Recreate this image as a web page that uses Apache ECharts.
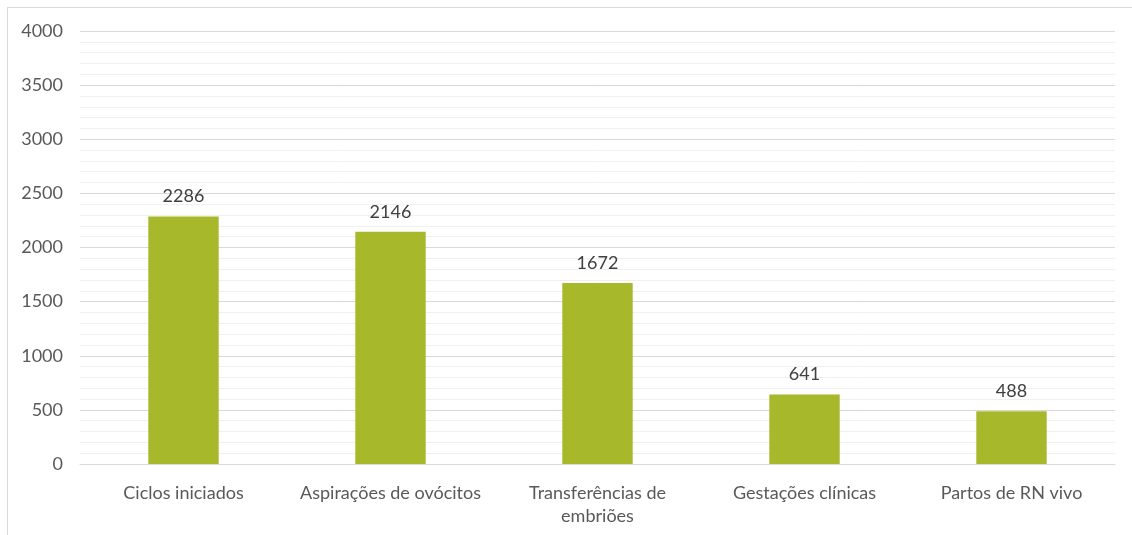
<!DOCTYPE html>
<html><head><meta charset="utf-8">
<script src="https://cdn.jsdelivr.net/npm/echarts@6/dist/echarts.min.js"></script>
<style>html,body{margin:0;padding:0;background:#fff}#c{width:1132px;height:535px}
#frame{position:absolute;left:7px;top:7px;width:1200px;height:600px;border:1px solid #d9d9d9;box-sizing:border-box;pointer-events:none}</style>
</head><body><div id="c"></div><div id="frame"></div>
<script>
const categories = ['Ciclos iniciados', 'Aspirações de ovócitos', 'Transferências de embriões', 'Gestações clínicas', 'Partos de RN vivo'];
const values = [2286, 2146, 1672, 641, 488];
const yTicks = [0, 500, 1000, 1500, 2000, 2500, 3000, 3500, 4000];

function wrapLabel(s) {
  if (s.length <= 24) return s;
  const i = s.lastIndexOf(' ');
  return s.slice(0, i) + '\n' + s.slice(i + 1);
}

const chart = echarts.init(document.getElementById('c'));
const font = 'Lato, "Open Sans", sans-serif';
chart.setOption({
  animation: false,
  grid: {left: 80, right: 17, top: 31, bottom: 71, containLabel: false},
  xAxis: {
    type: 'category', data: categories,
    axisLine: {lineStyle: {color: '#d9d9d9'}},
    axisTick: {show: false},
    axisLabel: {color: '#595959', fontSize: 18, fontFamily: font, margin: 18, lineHeight: 23,
      interval: 0, formatter: wrapLabel}
  },
  yAxis: {
    type: 'value', min: yTicks[0], max: yTicks[yTicks.length - 1], interval: 500,
    axisLine: {show: false}, axisTick: {show: false},
    axisLabel: {color: '#595959', fontSize: 18, fontFamily: font, margin: 17, align: 'right',
      formatter: v => String(v)},
    splitLine: {lineStyle: {color: '#d9d9d9', width: 1}},
    minorTick: {show: false, splitNumber: 5},
    minorSplitLine: {show: true, lineStyle: {color: '#f0f0f0', width: 1}}
  },
  series: [{
    type: 'bar', data: values, barWidth: '34%',
    itemStyle: {color: '#A7B82A'},
    label: {show: true, position: 'top', distance: 11, color: '#404040', fontSize: 18, fontFamily: font}
  }]
});
</script></body></html>
